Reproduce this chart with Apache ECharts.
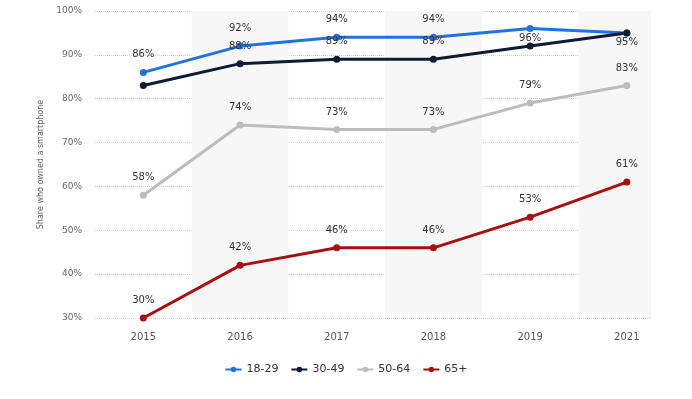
<!DOCTYPE html>
<html>
<head>
<meta charset="utf-8">
<script src="https://cdn.jsdelivr.net/npm/echarts@6/dist/echarts.min.js"></script>
<style>
	html, body { margin: 0; padding: 0; background: #fff; }
	#chart { width: 692px; height: 399px; }
</style>
</head>
<body>
<div id="chart"></div>
<script>
var years = ['2015', '2016', '2017', '2018', '2019', '2021'];
var ageGroups = ['18-29', '30-49', '50-64', '65+'];
var colors = ['#1f73e0', '#0d1b33', '#bcbcbc', '#a80f0f'];

var values1829 = [86, 92, 94, 94, 96, 95];
var values3049 = [83, 88, 89, 89, 92, 95];
var values5064 = [58, 74, 73, 73, 79, 83];
var values65 = [30, 42, 46, 46, 53, 61];

var yTicks = [30, 40, 50, 60, 70, 80, 90, 100];

// label tweaks where the two top lines collide
var labelFix = {
	'18-29': { 4: { position: 'bottom', distance: 1 }, 5: { show: false } },
	'30-49': { 0: { show: false }, 4: { show: false }, 5: { position: 'bottom', distance: 1 } }
};

function makeData(name, arr){
	var data = [];
	for(var i=0; i<arr.length; i++){
		var item = { value: [i, arr[i]] };
		if(labelFix[name] && labelFix[name][i]){
			item.label = labelFix[name][i];
		}
		data.push(item);
	}
	return data;
}

function makeSeries(name, arr, color){
	return {
		name: name,
		type: 'line',
		data: makeData(name, arr),
		symbol: 'circle',
		symbolSize: 7,
		lineStyle: { width: 3, color: color },
		itemStyle: { color: color },
		label: {
			show: true,
			position: 'top',
			distance: 9,
			color: '#333',
			fontSize: 10,
			fontFamily: 'DejaVu Sans',
			formatter: function(p){ return p.value[1] + '%'; }
		}
	};
}

// alternating column bands, from the category indices
var bands = [];
for(var i=1; i<years.length; i+=2){
	bands.push([{ xAxis: i - 0.5 }, { xAxis: Math.min(i + 0.5, years.length - 0.75) }]);
}

var series = [
	makeSeries(ageGroups[0], values1829, colors[0]),
	makeSeries(ageGroups[1], values3049, colors[1]),
	makeSeries(ageGroups[2], values5064, colors[2]),
	makeSeries(ageGroups[3], values65, colors[3])
];
series[3].markArea = {
	silent: true,
	itemStyle: { color: '#f7f7f7' },
	data: bands
};

var chart = echarts.init(document.getElementById('chart'));
chart.setOption({
	animation: false,
	grid: { left: 95, right: 41, top: 11, bottom: 81 },
	legend: {
		data: ageGroups,
		bottom: 19,
		left: 'center',
		itemWidth: 16,
		itemHeight: 7,
		itemGap: 12,
		textStyle: { color: '#333', fontSize: 11, fontFamily: 'DejaVu Sans' }
	},
	xAxis: {
		type: 'value',
		min: -0.5,
		max: years.length - 0.75,
		interval: 0.5,
		axisLine: { show: false },
		axisTick: { show: false },
		splitLine: { show: false },
		axisLabel: {
			color: '#555',
			fontSize: 10,
			margin: 14,
			fontFamily: 'DejaVu Sans',
			showMinLabel: false,
			showMaxLabel: false,
			formatter: function(v){
				return Number.isInteger(v) ? years[v] : '';
			}
		}
	},
	yAxis: {
		type: 'value',
		min: yTicks[0],
		max: yTicks[yTicks.length - 1],
		interval: 10,
		name: 'Share who owned a smartphone',
		nameLocation: 'middle',
		nameGap: 50,
		nameTextStyle: { color: '#666', fontSize: 8, fontFamily: 'DejaVu Sans' },
		axisLine: { show: false },
		axisTick: { show: false },
		axisLabel: {
			color: '#666',
			fontSize: 9,
			margin: 13,
			fontFamily: 'DejaVu Sans',
			formatter: '{value}%'
		},
		splitLine: { lineStyle: { type: 'dotted', color: '#d0d0d0' } }
	},
	series: series
});
</script>
</body>
</html>
